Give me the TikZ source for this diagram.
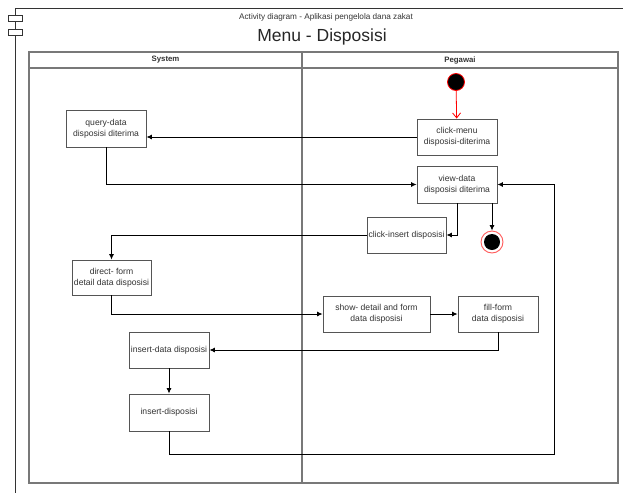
\documentclass[tikz,border=0pt]{standalone}
\usepackage{fontspec}
\setmainfont{Liberation Sans}
\usetikzlibrary{arrows.meta}
\definecolor{boxline}{RGB}{85,85,85}
\definecolor{laneline}{RGB}{120,120,120}
\definecolor{txt}{RGB}{51,51,51}
\definecolor{startred}{RGB}{255,0,0}
\definecolor{endred}{RGB}{255,90,90}
\tikzset{
  act/.style={draw=boxline, line width=0.9pt, fill=white, minimum width=80pt, minimum height=36pt,
    inner sep=1pt, align=center, text=txt, font=\fontsize{8.6}{10.8}\selectfont},
  flow/.style={draw=black, line width=0.8pt, -{Latex[length=5.5pt,width=5pt]}},
  plain/.style={draw=black, line width=0.8pt},
  lane/.style={draw=laneline, line width=1.2pt},
}
\begin{document}
\begin{tikzpicture}[x=1pt,y=-1pt]
\useasboundingbox (0,0) rectangle (627,493);
% outer frame
\draw[line width=0.9pt, draw=black!80] (15,493) -- (15,8) -- (623,8);
\draw[line width=0.8pt, draw=black!80, fill=white] (8,15) rectangle (22,21);
\draw[line width=0.8pt, draw=black!80, fill=white] (8,29) rectangle (22,35);
\node[text=txt, font=\fontsize{8.2}{10}\selectfont] (title) at (326,17) {Activity diagram - Aplikasi pengelola dana zakat};
\node[text=black!85, font=\fontsize{17.5}{20}\selectfont] (menu) at (322,37) {Menu - Disposisi};
% swimlanes
\draw[lane] (29,52) rectangle (618,483);
\draw[lane] (29,68) -- (618,68);
\draw[lane] (302,52) -- (302,483);
\node[font=\bfseries\fontsize{7.8}{9}\selectfont, text=txt] (sys) at (165.5,60) {System};
\node[font=\bfseries\fontsize{7.8}{9}\selectfont, text=txt] (peg) at (460,60) {Pegawai};
% nodes
\node[circle, fill=black, draw=startred, line width=0.8pt, minimum size=17pt, inner sep=0pt] (start) at (456,82) {};
\node[act] (clickmenu) at (457,137) {click-menu\\disposisi-diterima};
\node[act, minimum height=37pt] (viewdata) at (457,184.5) {view-data\\disposisi diterima};
\node[circle, draw=endred, line width=0.9pt, fill=white, minimum size=22pt, inner sep=0pt] (final) at (492,242) {};
\node[circle, fill=black, minimum size=16pt, inner sep=0pt] (finalin) at (final.center) {};
\node[act, minimum width=79pt] (clickinsert) at (406.5,235) {click-insert disposisi};
\node[act, minimum height=37pt] (query) at (106,128.5) {query-data\\disposisi diterima};
\node[act, minimum width=79pt, minimum height=35pt] (direct) at (111.5,277.5) {direct- form\\detail data disposisi};
\node[act, minimum width=107pt] (show) at (376.5,314) {show- detail and form\\data disposisi};
\node[act] (fill) at (498,314) {fill-form\\data disposisi};
\node[act] (insertdata) at (169,350) {insert-data disposisi};
\node[act, minimum height=37pt] (insertdisp) at (169,412.5) {insert-disposisi};
\coordinate (loop) at (554,454);
% connectors
\draw[draw=startred, line width=0.8pt, -{Straight Barb[length=5pt,width=8pt]}] (start) -- (clickmenu);
\draw[flow] (clickmenu.west) -- (clickmenu.west -| query.east);
\draw[flow] (query.south) |- (viewdata.west);
\draw[flow] (viewdata.south) |- (clickinsert.east);
\draw[flow] (viewdata.south -| final.north) -- (final.north);
\draw[flow] (clickinsert.west) -| (direct.north);
\draw[flow] (direct.south) |- (show.west);
\draw[flow] (show.east) -- (fill.west);
\draw[flow] (fill.south) |- (insertdata.east);
\draw[flow] (insertdata.south) -- (insertdisp.north);
\draw[flow] (insertdisp.south) |- (loop) |- (viewdata.east);
\end{tikzpicture}
\end{document}
